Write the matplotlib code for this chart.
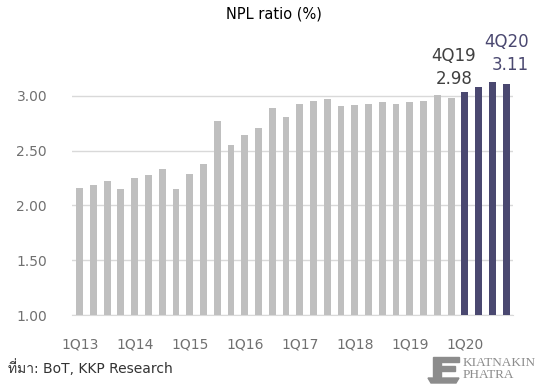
import matplotlib
matplotlib.use("Agg")
import matplotlib.pyplot as plt
from matplotlib import font_manager
from matplotlib.ft2font import FT2Font
from matplotlib.patches import Polygon

quarters = [f"{q}Q{y}" for y in range(13, 21) for q in range(1, 5)]
npl = [2.16, 2.19, 2.22, 2.15, 2.25, 2.28, 2.33, 2.15,
       2.29, 2.38, 2.77, 2.55, 2.64, 2.71, 2.89, 2.81,
       2.93, 2.95, 2.97, 2.91, 2.92, 2.93, 2.94, 2.93,
       2.94, 2.95, 3.01, 2.98, 3.04, 3.08, 3.13, 3.11]
tick_labels = ["1Q13", "1Q14", "1Q15", "1Q16", "1Q17", "1Q18", "1Q19", "1Q20"]
callouts = {"4Q19": 2.98, "4Q20": 3.11}

GRAY = "#bfbfbf"
NAVY = "#4a4870"


def thai_font():
    # first installed face that has Thai glyphs, if any
    for f in font_manager.fontManager.ttflist:
        try:
            if ord("ท") in FT2Font(f.fname).get_charmap():
                return f.name
        except Exception:
            pass
    return None


th = thai_font()
fams = ["DejaVu Sans"] + ([th] if th else [])

fig = plt.figure(figsize=(5.38, 3.88), dpi=100)
ax = fig.add_axes([0.134, 0.188, 0.8195, 0.706])

x = range(len(quarters))
colors = [NAVY if q.endswith("20") else GRAY for q in quarters]
ax.bar(x, npl, width=0.5, color=colors, zorder=3)

ax.set_xlim(-0.55, 31.5)
ax.set_ylim(1.0, 3.5)
ax.set_yticks([1.0, 1.5, 2.0, 2.5, 3.0])
ax.set_yticklabels([f"{v:.2f}" for v in [1.0, 1.5, 2.0, 2.5, 3.0]])
ax.set_xticks([quarters.index(t) for t in tick_labels])
ax.set_xticklabels(tick_labels)
ax.grid(axis="y", color="#d9d9d9", lw=1, zorder=0)
for s in ["top", "right", "left"]:
    ax.spines[s].set_visible(False)
ax.spines["bottom"].set_color("#d9d9d9")
ax.tick_params(length=0, colors="#707070", labelsize=10)
ax.tick_params(axis="y", pad=18)
ax.tick_params(axis="x", pad=16)

for q, c in [("4Q19", "#404040"), ("4Q20", NAVY)]:
    i = quarters.index(q)
    v = callouts[q]
    ax.annotate(f"{v:.2f}", (i, v), xytext=(4 if q == "4Q20" else 3, 10),
                textcoords="offset pixels", ha="center", va="bottom",
                fontsize=12, color=c, annotation_clip=False)
    ax.annotate(q, (i, v), xytext=(0 if q == "4Q20" else 2, 33),
                textcoords="offset pixels", ha="center", va="bottom",
                fontsize=12, color=c, annotation_clip=False)

fig.text(0.51, 0.965, "NPL ratio (%)", ha="center", va="center",
         fontsize=10.5, color="#000000")
fig.text(0.015, 0.054, "ที่มา: BoT, KKP Research", ha="left", va="center",
         fontsize=10, color="#333333", family=fams)

# company mark, bottom right
px = lambda a, b: (a / 538, 1 - b / 388)
logo = [
    [(437, 357), (459, 357), (459, 362), (441, 362), (441, 366), (455, 366),
     (455, 371), (441, 371), (441, 377), (433, 377), (433, 357)],
    [(428, 378), (459, 378), (456, 383), (431, 383)],
]
for pts in logo:
    fig.patches.append(Polygon([px(*p) for p in pts], closed=True,
                               transform=fig.transFigure, color="#8c8c8c"))
fig.text(463 / 538, 1 - 363 / 388, "KIATNAKIN", fontsize=9.5,
         family="Liberation Serif", color="#8c8c8c", va="center")
fig.text(463 / 538, 1 - 374.5 / 388, "PHATRA", fontsize=9.5,
         family="Liberation Serif", color="#8c8c8c", va="center")

fig.savefig("out.png", dpi=100)
